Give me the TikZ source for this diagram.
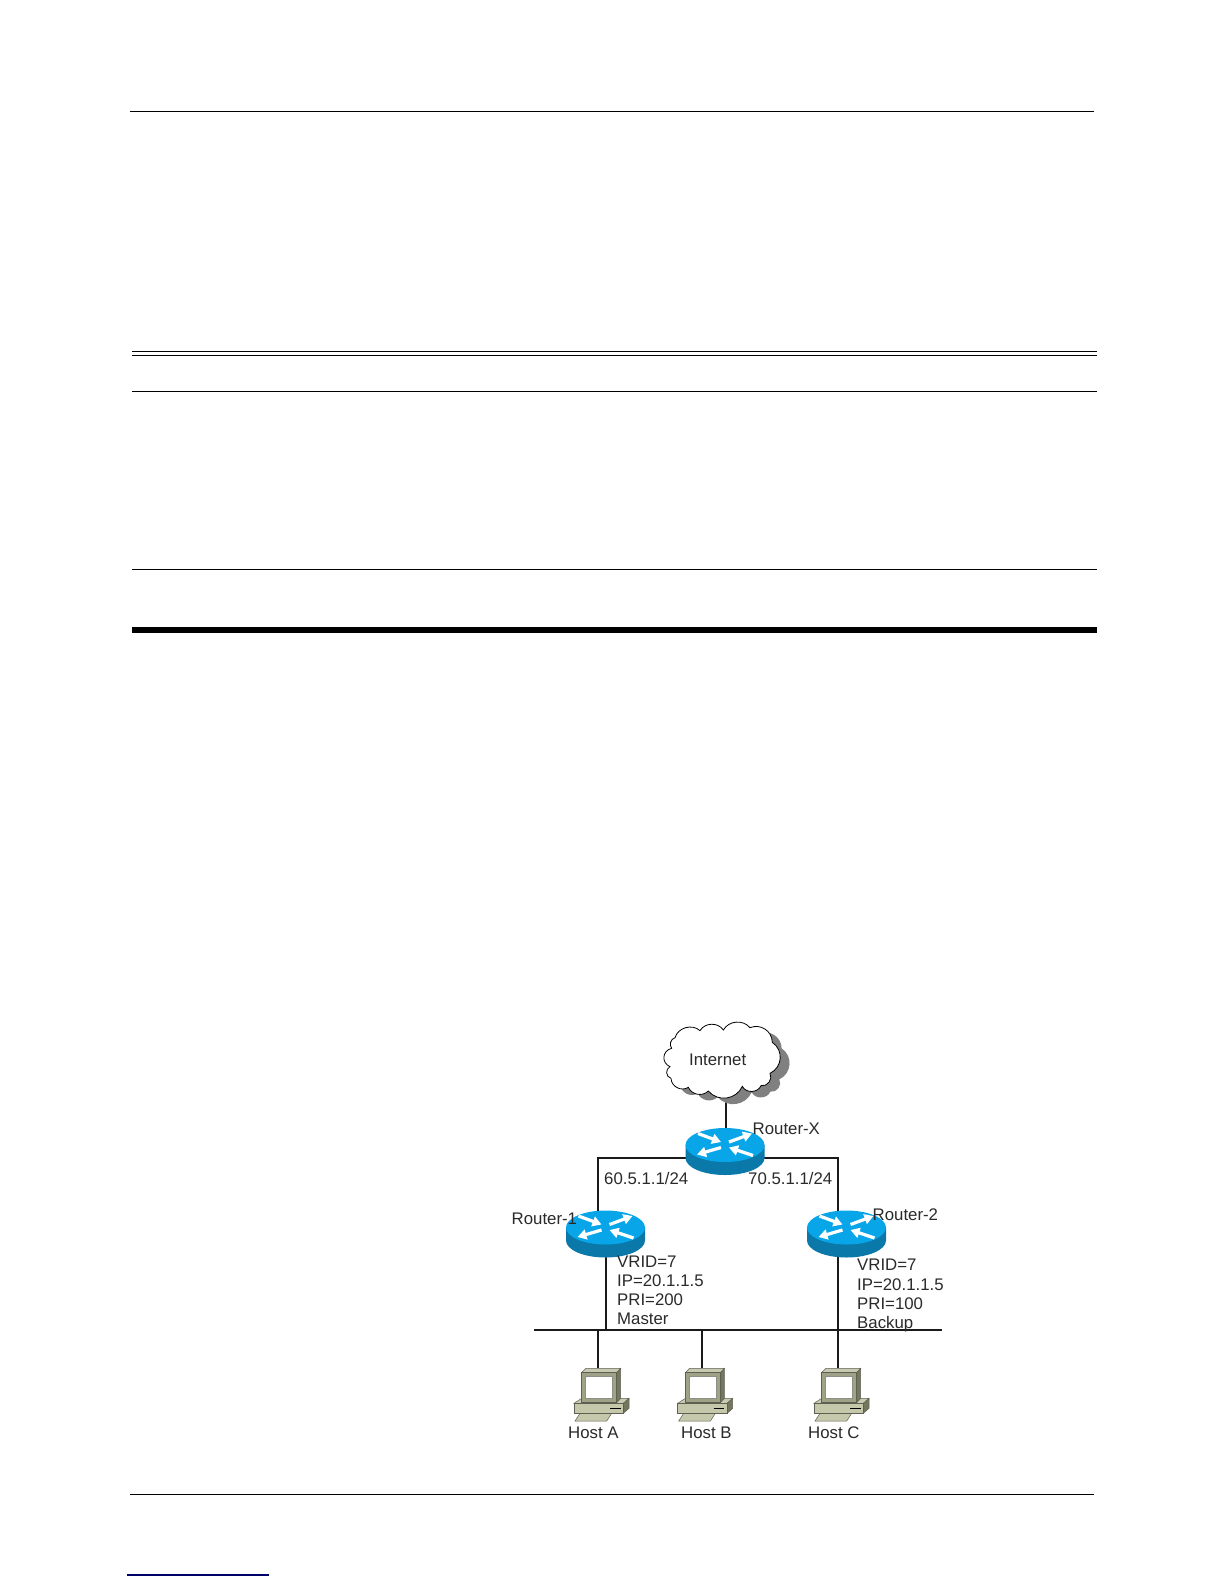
\documentclass[tikz,border=0pt]{standalone}
\usepackage{fontspec}
\setmainfont{Liberation Sans}
\usetikzlibrary{arrows.meta}
\definecolor{routertop}{HTML}{08A6E8}
\definecolor{routerside}{HTML}{0A78A8}
\definecolor{linkink}{HTML}{1A1A1A}
\definecolor{labelink}{HTML}{2A2A2A}
\definecolor{hostfront}{HTML}{A0A288}
\definecolor{hosttop}{HTML}{C8CAB2}
\definecolor{hostside}{HTML}{74775E}
\definecolor{hostbase}{HTML}{C6C8AC}
\definecolor{hostedge}{HTML}{5E6052}
\newcommand{\cloudoutline}{(60,68) to[bend left=58,looseness=1.05] (135,47)
 to[bend left=58,looseness=1.05] (205,45)
 to[bend left=55,looseness=1.05] (285,38)
 to[bend left=55,looseness=1.1] (352,82)
 to[bend left=60,looseness=1.15] (345,175)
 to[bend left=65,looseness=1.1] (318,212)
 to[bend left=65,looseness=1.1] (262,214)
 to[bend left=58,looseness=1.1] (160,228)
 to[bend left=55,looseness=1.05] (100,217)
 to[bend left=60,looseness=1.1] (48,190)
 to[bend left=70,looseness=1.2] (45,155)
 to[bend left=72,looseness=1.35] (50,100)
 to[bend left=55,looseness=1.05] cycle}
\tikzset{
 x=1pt,y=-1pt,
 pagerule/.style={draw=black,line width=1.1pt},
 link/.style={draw=linkink,line width=1.7pt},
 lbl/.style={anchor=base west,inner sep=0pt,text=labelink,font=\fontsize{16.8}{18}\selectfont},
 arrowmark/.style={draw=white,line width=3.2pt,-{Triangle[length=9pt,width=10pt]}},
 routericon/.pic={
  \fill[routerside] (-39.5,-6.5) -- (-39.5,6.5) arc[start angle=180,end angle=360,x radius=39.5,y radius=-17] -- (39.5,-6.5) -- cycle;
  \fill[routertop] (0,-6.5) ellipse[x radius=39.5,y radius=17];
  \draw[arrowmark] (-27,-18) -- (-4,-9.5);
  \draw[arrowmark] (4,-9.5) -- (27,-18);
  \draw[arrowmark] (-4,-4) -- (-28,3);
  \draw[arrowmark] (28,4) -- (4,-4);
 },
 hosticon/.pic={
  \filldraw[fill=hostbase,draw=hostedge,line width=0.5pt] (-1.7,45) -- (30,45) -- (25,52.7) -- (-6.7,52.7) -- cycle;
  \filldraw[fill=hosttop,draw=hostedge,line width=0.5pt] (-7.7,35) -- (0,30) -- (47.3,30) -- (41.7,35) -- cycle;
  \filldraw[fill=hostside,draw=hostedge,line width=0.5pt] (41.7,35) -- (47.3,30) -- (47.3,40) -- (41.7,45) -- cycle;
  \filldraw[fill=hostbase,draw=hostedge,line width=0.5pt] (-7.7,35) rectangle (41.7,45);
  \draw[black,line width=1pt] (28.3,40) -- (39,40);
  \filldraw[fill=hosttop,draw=hostedge,line width=0.5pt] (0,4.3) -- (4.3,0) -- (39,0) -- (35,4.3) -- cycle;
  \filldraw[fill=hostside,draw=hostedge,line width=0.5pt] (35,4.3) -- (39,0) -- (39,30) -- (35,34.3) -- cycle;
  \filldraw[fill=hostfront,draw=hostedge,line width=0.7pt] (0,4.3) rectangle (35,34.3);
  \filldraw[fill=white,draw=hostedge!70,line width=0.5pt] (3.8,8.2) rectangle (30.8,29.5);
 }
}
\begin{document}
\begin{tikzpicture}
\useasboundingbox[fill=white] (0,0) rectangle (1224,1584);
% page rules
\coordinate (pa1) at (130,111.5); \coordinate (pa2) at (1094,111.5);
\coordinate (pb1) at (132,351.3); \coordinate (pb2) at (1097,351.3);
\coordinate (pc1) at (132,355.3); \coordinate (pc2) at (1097,355.3);
\coordinate (pd1) at (132,391.5); \coordinate (pd2) at (1097,391.5);
\coordinate (pe1) at (132,569.5); \coordinate (pe2) at (1097,569.5);
\coordinate (pf1) at (132,630); \coordinate (pf2) at (1097,630);
\coordinate (pg1) at (130,1494.5); \coordinate (pg2) at (1094,1494.5);
\coordinate (ph1) at (127,1575); \coordinate (ph2) at (269,1575);
\draw[pagerule] (pa1) -- (pa2);
\draw[pagerule] (pb1) -- (pb2);
\draw[pagerule] (pc1) -- (pc2);
\draw[pagerule] (pd1) -- (pd2);
\draw[pagerule] (pe1) -- (pe2);
\draw[draw=black,line width=6pt] (pf1) -- (pf2);
\draw[draw=black!30!blue!60!black,line width=1.4pt] (ph1) -- (ph2);
\draw[pagerule] (pg1) -- (pg2);
% connection points
\coordinate (cloudport) at (726,1096);
\coordinate (rxtop) at (726,1135);
\coordinate (rxleft) at (725,1158);
\coordinate (rxright) at (725,1158);
\coordinate (r1top) at (598,1215);
\coordinate (r2top) at (838,1215);
\coordinate (r1bot) at (606,1250);
\coordinate (r2bot) at (838,1250);
\coordinate (busl) at (534,1330);
\coordinate (busr) at (942,1330);
\coordinate (bus1) at (606,1330);
\coordinate (hostaport) at (598,1368);
\coordinate (hostbport) at (702,1368);
\coordinate (hostcport) at (838,1368);
\coordinate (busa) at (598,1330);
\coordinate (busb) at (702,1330);
% connectors
\draw[link] (cloudport) -- (rxtop);
\draw[link] (rxleft) -| (r1top);
\draw[link] (rxright) -| (r2top);
\draw[link] (r1bot) -- (bus1);
\draw[link] (r2bot) -- (hostcport);
\draw[link] (busl) -- (busr);
\draw[link] (busa) -- (hostaport);
\draw[link] (busb) -- (hostbport);
% cloud
\begin{scope}[shift={(655,1015)},x=0.3333pt,y=-0.3333pt]
 \fill[gray] [shift={(28,18)}] \cloudoutline;
 \filldraw[fill=white,draw=black,line width=0.8pt] \cloudoutline;
\end{scope}
% routers
\pic at (725,1151.5) {routericon};
\pic at (605.5,1234) {routericon};
\pic at (846.5,1234) {routericon};
% hosts
\pic at (581.7,1368.3) {hosticon};
\pic at (685.4,1368.3) {hosticon};
\pic at (821.7,1368.3) {hosticon};
% labels
\node[lbl] (tnet) at (689,1065) {Internet};
\node[lbl] (trx) at (752.5,1134) {Router-X};
\node[lbl] (tl60) at (604,1184) {60.5.1.1/24};
\node[lbl] (tl70) at (748,1184) {70.5.1.1/24};
\node[lbl] (tr1) at (511.5,1224.5) {Router-1};
\node[lbl] (tr2) at (872.5,1220.5) {Router-2};
\node[lbl] (a1) at (617,1267) {VRID=7};
\node[lbl] (a2) at (617,1286) {IP=20.1.1.5};
\node[lbl] (a3) at (617,1305) {PRI=200};
\node[lbl] (a4) at (617,1324) {Master};
\node[lbl] (b1) at (857,1270) {VRID=7};
\node[lbl] (b2) at (857,1290) {IP=20.1.1.5};
\node[lbl] (b3) at (857,1309) {PRI=100};
\node[lbl] (b4) at (857,1328) {Backup};
\node[lbl] (ha) at (568,1438) {Host A};
\node[lbl] (hb) at (681,1438) {Host B};
\node[lbl] (hc) at (808,1438) {Host C};
\end{tikzpicture}
\end{document}
